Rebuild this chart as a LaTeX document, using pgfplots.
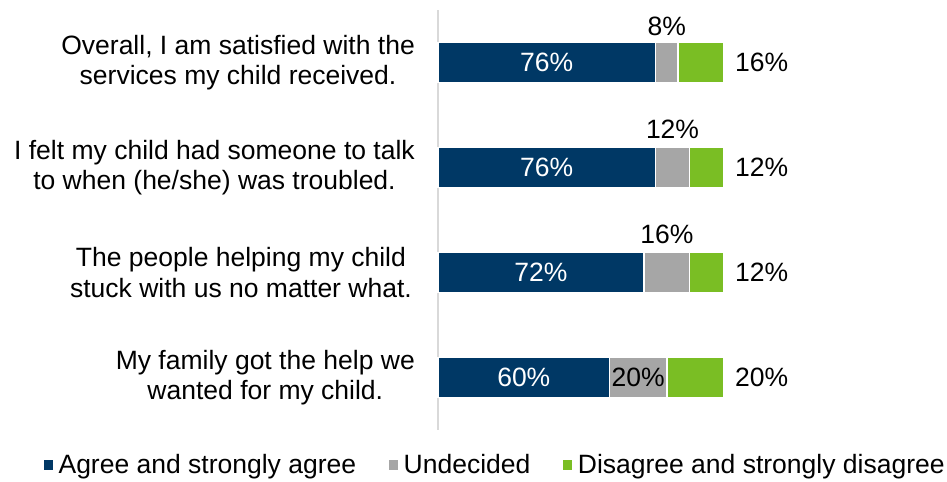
\documentclass[border=0pt]{standalone}
\usepackage{pgfplots}
\pgfplotsset{compat=1.18}
\usepackage{fontspec}
\setmainfont{Liberation Sans}
\definecolor{navy}{RGB}{0,56,101}
\definecolor{ggray}{RGB}{166,166,166}
\definecolor{ggreen}{RGB}{122,190,36}
\definecolor{axgray}{RGB}{217,217,217}
\newcommand\myfs{\fontsize{26.5bp}{30.5bp}\selectfont}
\tikzset{lbl/.style={font=\myfs, inner sep=0pt}}
\begin{document}
\begin{tikzpicture}
\path[use as bounding box] (0bp,0bp) rectangle (947bp,482bp);
\begin{axis}[
  at={(438bp,52bp)}, anchor=south west,
  scale only axis, width=286bp, height=420bp, clip=false,
  xmin=0, xmax=100, ymin=-0.5, ymax=3.5, y dir=reverse,
  xbar stacked, bar width=40bp,
  axis x line=none, axis y line*=left,
  y axis line style={draw=axgray, line width=1.5bp, -},
  ytick={0,1,2,3}, major tick length=0,
  yticklabels={{Overall, I am satisfied with the\\services my child received.},
               {I felt my child had someone to talk\\to when (he/she) was troubled.},
               {The people helping my child\hspace*{3bp}\\stuck with us no matter what.\hspace*{3bp}},
               {My family got the help we\\wanted for my child.}},
  yticklabel style={align=center, font=\myfs, anchor=east, inner sep=0pt, xshift=-23bp},
  legend columns=3,
  legend style={draw=none, font=\myfs, inner sep=0pt, at={(axis description cs:-1.385,-0.0833)}, anchor=west,
    nodes={inner sep=0pt},
    /tikz/every odd column/.append style={column sep=4bp},
    /tikz/every even column/.append style={column sep=31bp}},
  legend image code/.code={\fill[#1] (0bp,-5.5bp) rectangle (11bp,5.5bp);},
  extra description/.code={
    \node[lbl, white] at (axis cs:38,0) {76\%};
    \node[lbl, white] at (axis cs:38,1) {76\%};
    \node[lbl, white] at (axis cs:36,2) {72\%};
    \node[lbl, white] at (axis cs:30,3) {60\%};
    \node[lbl, yshift=36bp] at (axis cs:80,0) {8\%};
    \node[lbl, yshift=38bp] at (axis cs:82,1) {12\%};
    \node[lbl, yshift=38bp] at (axis cs:80,2) {16\%};
    \node[lbl] at (axis cs:70,3) {20\%};
    \node[lbl, anchor=west, xshift=11bp] at (axis cs:100,0) {16\%};
    \node[lbl, anchor=west, xshift=11bp] at (axis cs:100,1) {12\%};
    \node[lbl, anchor=west, xshift=11bp] at (axis cs:100,2) {12\%};
    \node[lbl, anchor=west, xshift=11bp] at (axis cs:100,3) {20\%};
  },
]
\addplot[fill=navy, draw=white, line width=1.5bp] coordinates {(76,0) (76,1) (72,2) (60,3)};
\addlegendentry{Agree and strongly agree}
\addplot[fill=ggray, draw=white, line width=1.5bp] coordinates {(8,0) (12,1) (16,2) (20,3)};
\addlegendentry{Undecided}
\addplot[fill=ggreen, draw=white, line width=1.5bp] coordinates {(16,0) (12,1) (12,2) (20,3)};
\addlegendentry{Disagree and strongly disagree}
\end{axis}
\end{tikzpicture}
\end{document}
